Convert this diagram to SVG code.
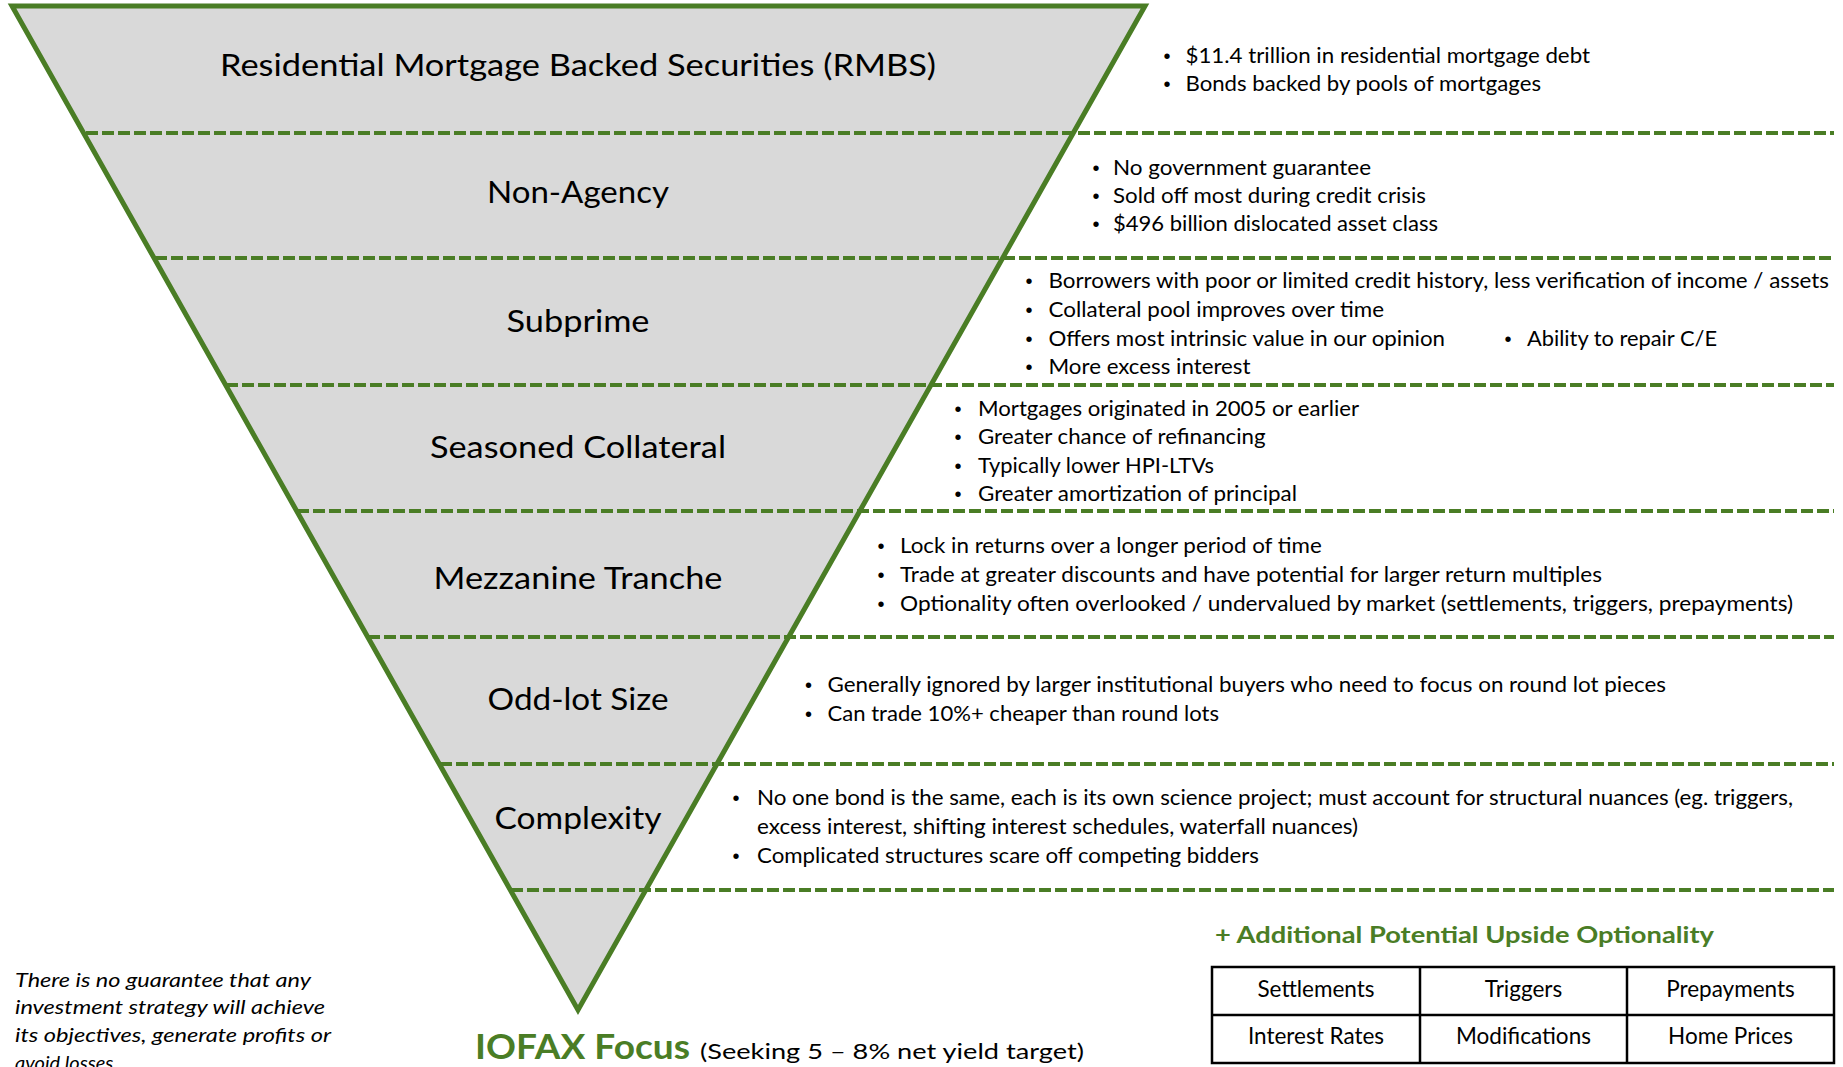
<svg xmlns="http://www.w3.org/2000/svg" width="1843" height="1067" viewBox="0 0 1843 1067">
<style>
.lbl{font-family:Lato,"Open Sans","Liberation Sans",sans-serif;font-size:31px;fill:#000;text-anchor:middle}
.b{font-family:Lato,"Open Sans","Liberation Sans",sans-serif;font-size:20.5px;fill:#000}
.dot{font-family:"Liberation Sans",sans-serif;font-size:20px;fill:#000;text-anchor:middle}
.sep{stroke:#4A7D25;stroke-width:3.8;stroke-dasharray:12 4;fill:none}
.cell{font-family:Lato,"Open Sans","Liberation Sans",sans-serif;font-size:22.5px;fill:#000;text-anchor:middle}
.grn{font-family:Lato,"Open Sans","Liberation Sans",sans-serif;font-weight:bold;fill:#4A7D25}
.it{font-family:Lato,"Open Sans","Liberation Sans",sans-serif;font-style:italic;font-size:20px;fill:#000}
</style>
<rect width="1843" height="1067" fill="#fff"/>
<g id="funnel">
<polygon points="12,6 1145,6 578,1010" fill="#D9D9D9" stroke="#4A7D25" stroke-width="5" stroke-linejoin="miter"/>
</g>
<g id="separators">
<line class="sep" x1="86" y1="133" x2="1834" y2="133"/>
<line class="sep" x1="155" y1="258" x2="1834" y2="258"/>
<line class="sep" x1="226" y1="385" x2="1834" y2="385"/>
<line class="sep" x1="297" y1="511" x2="1834" y2="511"/>
<line class="sep" x1="368" y1="637" x2="1834" y2="637"/>
<line class="sep" x1="440" y1="764" x2="1834" y2="764"/>
<line class="sep" x1="511" y1="890" x2="1834" y2="890"/>
</g>
<g id="node-rmbs">
<text class="lbl" x="578" y="76" textLength="716" lengthAdjust="spacingAndGlyphs">Residential Mortgage Backed Securities (RMBS)</text>
<text class="dot" x="1167" y="63">•</text><text class="b" x="1185.5" y="63" textLength="404.5" lengthAdjust="spacingAndGlyphs">$11.4 trillion in residential mortgage debt</text>
<text class="dot" x="1167" y="91">•</text><text class="b" x="1185.5" y="91" textLength="355.5" lengthAdjust="spacingAndGlyphs">Bonds backed by pools of mortgages</text>
</g>
<g id="node-nonagency">
<text class="lbl" x="578" y="203" textLength="182" lengthAdjust="spacingAndGlyphs">Non-Agency</text>
<text class="dot" x="1096" y="175">•</text><text class="b" x="1113" y="175" textLength="258" lengthAdjust="spacingAndGlyphs">No government guarantee</text>
<text class="dot" x="1096" y="203">•</text><text class="b" x="1113" y="203" textLength="313" lengthAdjust="spacingAndGlyphs">Sold off most during credit crisis</text>
<text class="dot" x="1096" y="231">•</text><text class="b" x="1113" y="231" textLength="325" lengthAdjust="spacingAndGlyphs">$496 billion dislocated asset class</text>
</g>
<g id="node-subprime">
<text class="lbl" x="578" y="332" textLength="143" lengthAdjust="spacingAndGlyphs">Subprime</text>
<text class="dot" x="1029" y="288">•</text><text class="b" x="1048.5" y="288" textLength="780.5" lengthAdjust="spacingAndGlyphs">Borrowers with poor or limited credit history, less verification of income / assets</text>
<text class="dot" x="1029" y="317">•</text><text class="b" x="1048.5" y="317" textLength="335.5" lengthAdjust="spacingAndGlyphs">Collateral pool improves over time</text>
<text class="dot" x="1029" y="346">•</text><text class="b" x="1048.5" y="346" textLength="396.5" lengthAdjust="spacingAndGlyphs">Offers most intrinsic value in our opinion</text>
<text class="dot" x="1508" y="346">•</text><text class="b" x="1527" y="346" textLength="190" lengthAdjust="spacingAndGlyphs">Ability to repair C/E</text>
<text class="dot" x="1029" y="374">•</text><text class="b" x="1048.5" y="374" textLength="202" lengthAdjust="spacingAndGlyphs">More excess interest</text>
</g>
<g id="node-seasoned">
<text class="lbl" x="578" y="458" textLength="296" lengthAdjust="spacingAndGlyphs">Seasoned Collateral</text>
<text class="dot" x="958" y="416">•</text><text class="b" x="978" y="416" textLength="381" lengthAdjust="spacingAndGlyphs">Mortgages originated in 2005 or earlier</text>
<text class="dot" x="958" y="444">•</text><text class="b" x="978" y="444" textLength="287.6" lengthAdjust="spacingAndGlyphs">Greater chance of refinancing</text>
<text class="dot" x="958" y="473">•</text><text class="b" x="978" y="473" textLength="236" lengthAdjust="spacingAndGlyphs">Typically lower HPI-LTVs</text>
<text class="dot" x="958" y="501">•</text><text class="b" x="978" y="501" textLength="319" lengthAdjust="spacingAndGlyphs">Greater amortization of principal</text>
</g>
<g id="node-mezzanine">
<text class="lbl" x="578" y="589" textLength="289" lengthAdjust="spacingAndGlyphs">Mezzanine Tranche</text>
<text class="dot" x="881" y="553">•</text><text class="b" x="900" y="553" textLength="421.7" lengthAdjust="spacingAndGlyphs">Lock in returns over a longer period of time</text>
<text class="dot" x="881" y="582">•</text><text class="b" x="900" y="582" textLength="702" lengthAdjust="spacingAndGlyphs">Trade at greater discounts and have potential for larger return multiples</text>
<text class="dot" x="881" y="611">•</text><text class="b" x="900" y="611" textLength="893" lengthAdjust="spacingAndGlyphs">Optionality often overlooked / undervalued by market (settlements, triggers, prepayments)</text>
</g>
<g id="node-oddlot">
<text class="lbl" x="578" y="710" textLength="181" lengthAdjust="spacingAndGlyphs">Odd-lot Size</text>
<text class="dot" x="808.5" y="692">•</text><text class="b" x="827.5" y="692" textLength="838.5" lengthAdjust="spacingAndGlyphs">Generally ignored by larger institutional buyers who need to focus on round lot pieces</text>
<text class="dot" x="808.5" y="721">•</text><text class="b" x="827.5" y="721" textLength="391.5" lengthAdjust="spacingAndGlyphs">Can trade 10%+ cheaper than round lots</text>
</g>
<g id="node-complexity">
<text class="lbl" x="578" y="829" textLength="167" lengthAdjust="spacingAndGlyphs">Complexity</text>
<text class="dot" x="736" y="805">•</text><text class="b" x="757" y="805" textLength="1036" lengthAdjust="spacingAndGlyphs">No one bond is the same, each is its own science project; must account for structural nuances (eg. triggers,</text>
<text class="b" x="757" y="834" textLength="601" lengthAdjust="spacingAndGlyphs">excess interest, shifting interest schedules, waterfall nuances)</text>
<text class="dot" x="736" y="863">•</text><text class="b" x="757" y="863" textLength="502" lengthAdjust="spacingAndGlyphs">Complicated structures scare off competing bidders</text>
</g>
<g id="node-focus">
<text class="grn" x="475" y="1059" font-size="34" textLength="215" lengthAdjust="spacingAndGlyphs">IOFAX Focus</text>
<text class="b" x="700" y="1059" font-size="23" textLength="384" lengthAdjust="spacingAndGlyphs">(Seeking 5 – 8% net yield target)</text>
</g>
<g id="node-disclaimer">
<text class="it" x="15" y="987" textLength="296" lengthAdjust="spacingAndGlyphs">There is no guarantee that any</text>
<text class="it" x="15" y="1014" textLength="310" lengthAdjust="spacingAndGlyphs">investment strategy will achieve</text>
<text class="it" x="15" y="1042" textLength="316" lengthAdjust="spacingAndGlyphs">its objectives, generate profits or</text>
<text class="it" x="15" y="1070">avoid losses</text>
</g>
<g id="node-optionality">
<text class="grn" x="1215" y="943" font-size="23" textLength="499" lengthAdjust="spacingAndGlyphs">+ Additional Potential Upside Optionality</text>
<rect x="1212" y="967" width="622" height="96" fill="#fff" stroke="#000" stroke-width="2.5"/>
<line x1="1212" y1="1015" x2="1834" y2="1015" stroke="#000" stroke-width="2.5"/>
<line x1="1420" y1="967" x2="1420" y2="1063" stroke="#000" stroke-width="2.5"/>
<line x1="1627" y1="967" x2="1627" y2="1063" stroke="#000" stroke-width="2.5"/>
<text class="cell" x="1316" y="997">Settlements</text>
<text class="cell" x="1523.5" y="997">Triggers</text>
<text class="cell" x="1730.5" y="997">Prepayments</text>
<text class="cell" x="1316" y="1044">Interest Rates</text>
<text class="cell" x="1523.5" y="1044">Modifications</text>
<text class="cell" x="1730.5" y="1044">Home Prices</text>
</g>
</svg>
